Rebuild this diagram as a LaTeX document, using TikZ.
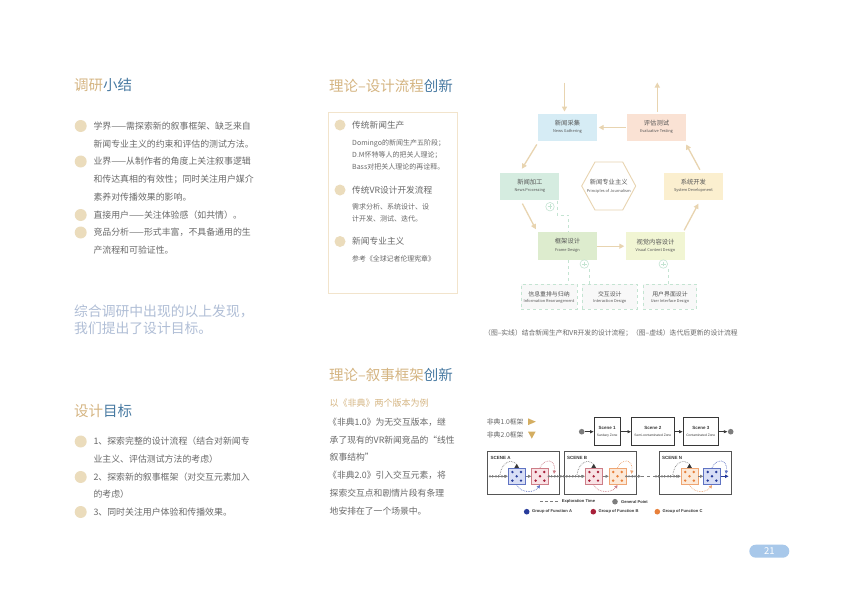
\documentclass[tikz,border=0pt]{standalone}
\usepackage{fontspec}
\setmainfont{Noto Sans CJK SC}
\newfontfamily\lsans{Liberation Sans}
\usetikzlibrary{calc,arrows.meta,decorations.markings}
\definecolor{gold}{RGB}{213,181,130}
\definecolor{tblue}{RGB}{72,122,162}
\definecolor{bulfill}{RGB}{235,220,188}
\definecolor{txtgray}{RGB}{105,105,105}
\definecolor{lblue}{RGB}{176,190,214}
\definecolor{boxline}{RGB}{242,228,204}
\definecolor{flowarr}{RGB}{232,212,176}
\definecolor{dgreen}{RGB}{196,228,210}
\definecolor{fgather}{RGB}{214,236,245}
\definecolor{feval}{RGB}{250,226,212}
\definecolor{fproc}{RGB}{213,236,224}
\definecolor{fsys}{RGB}{251,239,207}
\definecolor{fframe}{RGB}{221,236,206}
\definecolor{fvis}{RGB}{241,245,211}
\definecolor{dfill}{RGB}{248,248,248}
\definecolor{nodetxt}{RGB}{85,85,85}
\definecolor{pillblue}{RGB}{168,200,234}
\definecolor{tri}{RGB}{212,174,98}
\definecolor{sdark}{RGB}{55,55,55}
\definecolor{cgray}{RGB}{125,125,125}
\definecolor{fblue}{RGB}{40,60,155}
\definecolor{fblueL}{RGB}{216,222,245}
\definecolor{fblueB}{RGB}{95,115,195}
\definecolor{fred}{RGB}{168,32,58}
\definecolor{fredL}{RGB}{249,226,229}
\definecolor{fredB}{RGB}{205,125,135}
\definecolor{forg}{RGB}{232,128,58}
\definecolor{forgL}{RGB}{252,233,216}
\definecolor{forgB}{RGB}{238,165,115}

\newcommand{\flownode}[5]{%
  \node[fnode,fill=#3] (#1) at (#2) {};
  \node[cn] (#1c) at ($(#1)+(0,-4.6)$) {#4};
  \node[en] (#1e) at ($(#1)+(0,3.8)$) {#5};}
\newcommand{\dashnode}[5]{%
  \node[dnode,minimum width=#3] (#1) at (#2) {};
  \node[cn,font=\fontsize{5.9}{6.5}\selectfont] (#1c) at ($(#1)+(0,-2.6)$) {#4};
  \node[en] (#1e) at ($(#1)+(0,5)$) {#5};}
\newcommand{\funcbox}[5]{% name, pos, border, fill, dots
  \node[draw=#3,fill=#4,minimum width=17,minimum height=16,inner sep=0,line width=0.7] (#1) at (#2) {};
  \foreach \dx/\dy in {-4.3/-4.3,4.3/-4.3,0/0,-4.3/4.3,4.3/4.3}
    \fill[#5] ($(#1)+(\dx,\dy)$) circle (1.35);}
\newcommand{\scarcs}[4]{% box1, box2, col1, col2
  \draw[arcst,draw=cgray] ($(#1)+(-16.7,-1.5)$) .. controls ($(#1)+(-15,-15)$) and ($(#1)+(-5,-17)$) .. ($(#1)+(-1,-13)$);
  \fill[sdark] ($(#1)+(0,-12.6)$) -- ($(#1)+(2.4,-8.4)$) -- ($(#1)+(-2.4,-8.4)$) -- cycle;
  \draw[arcst,draw=#3,-{Triangle[length=3.2pt,width=3.2pt]}] ($(#1)+(0,8.5)$) .. controls ($(#1)+(4,17)$) and ($(#2)+(-6,17)$) .. ($(#2)+(0,8.7)$);
  \draw[arcst,draw=#4,-{Triangle[length=3.2pt,width=3.2pt]}] ($(#2)+(0,-8.5)$) .. controls ($(#2)+(4,-18)$) and ($(#2)+(16,-18)$) .. ($(#2)+(14,-2.5)$);}

\begin{document}
\begin{tikzpicture}[x=1pt,y=-1pt,
  ttl/.style={anchor=west,inner sep=0,font=\fontsize{14.5}{16}\selectfont},
  ltxt/.style={anchor=west,inner sep=0,text=txtgray,font=\fontsize{8.9}{10}\selectfont},
  mtxt/.style={anchor=west,inner sep=0,text=txtgray,font=\fontsize{8.8}{10}\selectfont},
  hd/.style={anchor=west,inner sep=0,text=txtgray,font=\fontsize{8.7}{10}\selectfont},
  sm/.style={anchor=west,inner sep=0,text=txtgray,font=\fontsize{7}{8}\selectfont},
  bul/.style={circle,fill=bulfill,minimum size=12,inner sep=0},
  mbul/.style={circle,fill=bulfill,minimum size=11,inner sep=0},
  fnode/.style={minimum width=59,minimum height=27.5,inner sep=0},
  dnode/.style={draw=dgreen,dashed,fill=dfill,line width=0.6,minimum height=24.7,inner sep=0},
  cn/.style={inner sep=0,text=nodetxt,font=\fontsize{6.3}{7}\selectfont},
  en/.style={inner sep=0,text=nodetxt,font=\fontsize{3.9}{4.5}\selectfont},
  farr/.style={draw=flowarr,line width=1.3,-{Triangle[length=5pt,width=5pt]}},
  dgline/.style={draw=dgreen,dashed,line width=0.8},
  pluscirc/.style={circle,draw=dgreen,line width=0.6,minimum size=8.5,inner sep=0,
    path picture={\draw[dgreen,line width=0.6] ($(path picture bounding box.center)+(-2.4,0)$) -- ++(4.8,0)
      ($(path picture bounding box.center)+(0,-2.4)$) -- ++(0,4.8);}},
  sbox/.style={draw=sdark,line width=0.7,minimum height=28,inner sep=0},
  bigscene/.style={draw=sdark!85,line width=0.8,minimum height=42.6,minimum width=72.4,inner sep=0},
  stitle/.style={inner sep=0,text=sdark,font=\lsans\bfseries\fontsize{4.5}{5}\selectfont},
  ssub/.style={inner sep=0,text=sdark,font=\lsans\fontsize{3.3}{4}\selectfont},
  sarr/.style={draw=sdark,line width=0.8,-{Latex[length=3.8pt,width=3.4pt]}},
  legt/.style={anchor=west,inner sep=0,text=sdark,font=\lsans\bfseries\fontsize{4.1}{5}\selectfont},
  arcst/.style={densely dotted,line width=0.7},
  chain/.style={draw=cgray,line width=0.5,-{Triangle[length=3pt,width=3pt]},
    postaction={decorate},decoration={markings,
      mark=between positions 0 and -5pt step 6pt with {\fill[cgray] (0,0) circle (1.3);
        \fill[cgray] (2.2,-1.3) -- (4.2,0) -- (2.2,1.3) -- cycle;}}},
]
\useasboundingbox (0,0) rectangle (841,600);
\fill[white] (0,0) rectangle (841,600);

%% ---------------- left column ----------------
\node[ttl] (t1) at (74,85) {\textcolor{gold}{调研}\textcolor{tblue}{小结}};
\foreach \y [count=\i] in {126,161.5,215,232.5} \node[bul] (lb\i) at (80.7,\y) {};
\node[ltxt] (l1) at (93.3,126)   {学界——需探索新的叙事框架、缺乏来自};
\node[ltxt] (l2) at (93.3,144)   {新闻专业主义的约束和评估的测试方法。};
\node[ltxt] (l3) at (93.3,161.5) {业界——从制作者的角度上关注叙事逻辑};
\node[ltxt] (l4) at (93.3,179.5) {和传达真相的有效性；同时关注用户媒介};
\node[ltxt] (l5) at (93.3,197)   {素养对传播效果的影响。};
\node[ltxt] (l6) at (93.3,215)   {直接用户——关注体验感（如共情）。};
\node[ltxt] (l7) at (93.3,232.5) {竞品分析——形式丰富，不具备通用的生};
\node[ltxt] (l8) at (93.3,250.5) {产流程和可验证性。};

\node[anchor=west,inner sep=0,text=lblue,font=\fontsize{13.8}{15}\selectfont] (s1) at (74,311.7) {综合调研中出现的以上发现，};
\node[anchor=west,inner sep=0,text=lblue,font=\fontsize{13.8}{15}\selectfont] (s2) at (74,328.3) {我们提出了设计目标。};

\node[ttl] (t2) at (74,411.5) {\textcolor{gold}{设计}\textcolor{tblue}{目标}};
\foreach \y [count=\i] in {441.5,477,512} \node[bul] (gb\i) at (80.7,\y) {};
\node[ltxt] (g1) at (93.3,441.5) {1、探索完整的设计流程（结合对新闻专};
\node[ltxt] (g2) at (93.3,459)   {业主义、评估测试方法的考虑）};
\node[ltxt] (g3) at (93.3,477)   {2、探索新的叙事框架（对交互元素加入};
\node[ltxt] (g4) at (93.3,494.3) {的考虑）};
\node[ltxt] (g5) at (93.3,512)   {3、同时关注用户体验和传播效果。};

%% ---------------- middle column ----------------
\node[ttl] (t3) at (329,86) {\textcolor{gold}{理论–设计流程}\textcolor{tblue}{创新}};
\node[draw=boxline,line width=0.8,anchor=north west,minimum width=129,minimum height=181,inner sep=0] (mbox) at (328,112) {};
\node[mbul] (mb1) at (340,125) {};
\node[mbul] (mb2) at (340,190) {};
\node[mbul] (mb3) at (340,241.5) {};
\node[hd] (h1) at (352,125) {传统新闻生产};
\node[sm] (h1a) at (352,143.5) {Domingo的新闻生产五阶段；};
\node[sm] (h1b) at (352,155) {D.M怀特等人的把关人理论；};
\node[sm] (h1c) at (352,166.5) {Bass对把关人理论的再诠释。};
\node[hd] (h2) at (352,190) {传统VR设计开发流程};
\node[sm] (h2a) at (352,207.3) {需求分析、系统设计、设};
\node[sm] (h2b) at (352,218.8) {计开发、测试、迭代。};
\node[hd] (h3) at (352,241.5) {新闻专业主义};
\node[sm,font=\fontsize{6.9}{8}\selectfont] (h3a) at (352,259.3) {参考《全球记者伦理宪章》};

\node[ttl] (t4) at (329,375) {\textcolor{gold}{理论–叙事框架}\textcolor{tblue}{创新}};
\node[anchor=west,inner sep=0,text=gold,font=\fontsize{9}{10}\selectfont] (ex) at (329.5,403.5) {以《非典》两个版本为例};
\node[mtxt] (m1) at (328,422.5) {《非典1.0》为无交互版本，继};
\node[mtxt] (m2) at (329.5,440)   {承了现有的VR新闻竞品的“线性};
\node[mtxt] (m3) at (329.5,457.5) {叙事结构”};
\node[mtxt] (m4) at (328,475)   {《非典2.0》引入交互元素，将};
\node[mtxt] (m5) at (329.5,493)   {探索交互点和剧情片段有条理};
\node[mtxt] (m6) at (329.5,511)   {地安排在了一个场景中。};

%% ---------------- flowchart ----------------
\flownode{gather}{567.5,127.5}{fgather}{新闻采集}{News Gathering}
\flownode{eval}{656.5,127.5}{feval}{评估测试}{Evaluative Testing}
\flownode{proc}{529.9,186.7}{fproc}{新闻加工}{News Processing}
\flownode{sys}{693.4,186.7}{fsys}{系统开发}{System Development}
\flownode{frame}{567.5,246.2}{fframe}{框架设计}{Frame Design}
\flownode{visual}{655.5,246.2}{fvis}{视觉内容设计}{Visual Content Design}

\coordinate (hex) at (608.7,186);
\draw[draw=flowarr,line width=0.9,fill=white] ($(hex)+(-27,0)$) -- ($(hex)+(-13.7,-24)$) -- ($(hex)+(14,-24)$)
  -- ($(hex)+(27,0)$) -- ($(hex)+(14,24)$) -- ($(hex)+(-13.7,24)$) -- cycle;
\node[cn] (hexc) at ($(hex)+(0,-3.8)$) {新闻专业主义};
\node[en] (hexe) at ($(hex)+(0,5.6)$) {Principles of Journalism};

\coordinate (topin) at (564.5,82.5);
\coordinate (evout) at (657.3,82.5);
\draw[farr,shorten >=2pt] (topin) -- (topin |- gather.north);
\draw[farr,shorten <=2pt] (evout |- eval.north) -- (evout);
\draw[farr,shorten >=1.5pt,shorten <=1pt] (eval.west) -- (gather.east);
\draw[farr] ($(gather.south west)+(-1,3)$) -- ($(proc.north)+(-8,-4)$);
\draw[farr] ($(proc.south)+(-7.5,3)$) -- ($(frame.north west)+(-2,-3)$);
\draw[farr,shorten >=1.5pt] (frame.east) -- (visual.west);
\draw[farr] ($(visual.north east)+(-1,-2)$) -- ($(sys.south)+(5,3)$);
\draw[farr] ($(sys.north)+(6.5,-3)$) -- ($(eval.south east)+(0,3)$);

\dashnode{info}{549,296.7}{56}{信息重排与归纳}{Information Rearrangement}
\dashnode{inter}{609.8,296.7}{55}{交互设计}{Interaction Design}
\dashnode{ui}{670,296.7}{53.5}{用户界面设计}{User Interface Design}

\node[pluscirc] (p1) at (550,206.7) {};
\node[pluscirc] (p2) at (584.3,264) {};
\node[pluscirc] (p3) at (663.3,264) {};
\draw[dgline] ($(proc.south east)+(-2.5,0)$) |- ($(frame.north)+(0.8,-17)$) -- ($(frame.north)+(0.8,0)$);
\coordinate (fa) at ($(frame.south)+(0.8,0)$);
\draw[dgline] (fa) -- (fa |- info.north);
\coordinate (p2a) at ($(p2)+(5,5)$);
\draw[dgline] (p2a) -- (p2a |- inter.north);
\coordinate (p3a) at ($(p3)+(5,5)$);
\draw[dgline] (p3a) -- (p3a |- ui.north);

\node[anchor=west,inner sep=0,text=txtgray,font=\fontsize{6.8}{8}\selectfont] (cap) at (484,333.3)
  {（图–实线）结合新闻生产和VR开发的设计流程；（图–虚线）迭代后更新的设计流程};

%% ---------------- scene diagram ----------------
\node[anchor=west,inner sep=0,text=txtgray,font=\fontsize{6.8}{8}\selectfont] (v1) at (486.7,421.7) {非典1.0框架};
\node[anchor=west,inner sep=0,text=txtgray,font=\fontsize{6.8}{8}\selectfont] (v2) at (486.7,435) {非典2.0框架};
\fill[tri] (528,418.3) -- (535.8,421.7) -- (528,425.1) -- cycle;
\fill[tri] (528,431.6) -- (535.6,431.6) -- (531.8,438.6) -- cycle;

\node[circle,fill=cgray,minimum size=5.6,inner sep=0] (sd) at (581.7,431.7) {};
\node[circle,fill=cgray,minimum size=5.6,inner sep=0] (ed) at (730.7,431.7) {};
\node[sbox,minimum width=25.7] (sc1) at (607.2,431.7) {};
\node[sbox,minimum width=42.3] (sc2) at (652.9,431.7) {};
\node[sbox,minimum width=35] (sc3) at (700.8,431.7) {};
\node[stitle] (sc1t) at ($(sc1)+(0,-3.5)$) {Scene 1};
\node[ssub] (sc1s) at ($(sc1)+(0,4)$) {Sanitary Zone};
\node[stitle] (sc2t) at ($(sc2)+(0,-3.5)$) {Scene 2};
\node[ssub] (sc2s) at ($(sc2)+(0,4)$) {Semi-contaminated Zone};
\node[stitle] (sc3t) at ($(sc3)+(0,-3.5)$) {Scene 3};
\node[ssub] (sc3s) at ($(sc3)+(0,4)$) {Contaminated Zone};
\draw[sarr] (sd) -- (sc1);
\draw[sarr] (sc1) -- (sc2);
\draw[sarr] (sc2) -- (sc3);
\draw[sarr] (sc3) -- (ed);

\node[bigscene,minimum width=71.3] (scA) at (523.35,473) {};
\node[bigscene] (scB) at (600.5,473) {};
\node[bigscene] (scN) at (695.5,473) {};
\node[stitle,anchor=west] (scAt) at (490.5,457.8) {SCENE A};
\node[stitle,anchor=west] (scBt) at (567,457.8) {SCENE B};
\node[stitle,anchor=west] (scNt) at (662,457.8) {SCENE N};

\funcbox{blueA}{516.7,476.3}{fblueB}{fblueL}{fblue}
\funcbox{redA}{540,476.3}{fredB}{fredL}{fred}
\funcbox{redB}{593.7,476.3}{fredB}{fredL}{fred}
\funcbox{orB}{617.5,476.3}{forgB}{forgL}{forg}
\funcbox{orN}{689.5,476.3}{forgB}{forgL}{forg}
\funcbox{blueN}{712,476.3}{fblueB}{fblueL}{fblue}

\coordinate (cA0) at (490,476.3);
\coordinate (cB1) at (641,476.3);
\coordinate (cN0) at (656,476.3);
\coordinate (cN1) at (728.5,476.3);
\draw[chain] (cA0) -- (blueA.west);
\draw[chain] (redA.east) -- (redB.west);
\draw[chain] (orB.east) -- (cB1);
\draw[chain] (cN0) -- (orN.west);
\draw[draw=cgray,line width=0.6,dashed] (cB1) -- (cN0);
\draw[draw=cgray,line width=0.6,-{Triangle[length=3pt,width=3pt]}] (blueA.east) -- (redA.west);
\draw[draw=cgray,line width=0.6,-{Triangle[length=3pt,width=3pt]}] (redB.east) -- (orB.west);
\draw[draw=cgray,line width=0.6,-{Triangle[length=3pt,width=3pt]}] (orN.east) -- (blueN.west);
\draw[draw=fblue,line width=0.7,-{Triangle[length=3.4pt,width=3.4pt]}] (blueN.east) -- (cN1);

\scarcs{blueA}{redA}{fblueB}{fredB}
\scarcs{redB}{orB}{fredB}{forgB}
\scarcs{orN}{blueN}{forgB}{fblueB}

\coordinate (e1) at (540,501.7);
\coordinate (e2) at (558.3,501.7);
\draw[draw=cgray,line width=0.6,densely dashed] (e1) -- (e2);
\node[legt] (lgt1) at (561.7,501.7) {Exploration Time};
\node[circle,fill=cgray,minimum size=5.6,inner sep=0] (lgd) at (615,501.7) {};
\node[legt] (lgt2) at (621,501.7) {General Point};
\node[circle,fill=fblue,minimum size=5.6,inner sep=0] (lga) at (526.7,511.7) {};
\node[legt] (lgt3) at (532,511.7) {Group of Function A};
\node[circle,fill=fred,minimum size=5.6,inner sep=0] (lgb) at (593.3,511.7) {};
\node[legt] (lgt4) at (598.5,511.7) {Group of Function B};
\node[circle,fill=forg,minimum size=5.6,inner sep=0] (lgc) at (657.3,511.7) {};
\node[legt] (lgt5) at (662.5,511.7) {Group of Function C};

%% ---------------- page number ----------------
\node[rounded corners=6.5,fill=pillblue,minimum width=40,minimum height=13,inner sep=0,text=white,font=\fontsize{9.5}{10}\selectfont] (pg) at (769.3,551.2) {21};
\end{tikzpicture}
\end{document}
